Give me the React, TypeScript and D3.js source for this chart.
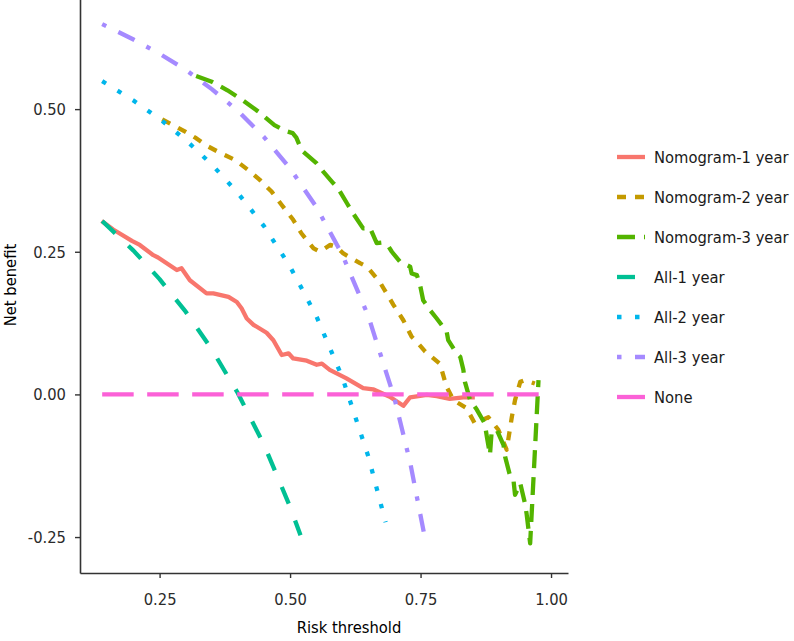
import React, { useEffect, useRef } from 'react';
import * as d3 from 'd3';

// threshold / net benefit pairs
const nomogram1: [number, number][] = [
  [0.139, 0.304], [0.161, 0.289], [0.197, 0.269], [0.212, 0.262], [0.238, 0.244],
  [0.247, 0.24], [0.283, 0.218], [0.292, 0.221], [0.308, 0.2], [0.34, 0.177],
  [0.353, 0.177], [0.382, 0.171], [0.398, 0.162], [0.407, 0.151], [0.417, 0.133],
  [0.43, 0.122], [0.455, 0.108], [0.468, 0.095], [0.484, 0.069], [0.497, 0.072],
  [0.506, 0.063], [0.532, 0.059], [0.551, 0.052], [0.561, 0.054], [0.576, 0.043],
  [0.608, 0.028], [0.64, 0.011], [0.659, 0.009], [0.691, -0.004], [0.717, -0.02],
  [0.73, -0.005], [0.762, -0.001], [0.781, -0.003], [0.806, -0.008], [0.832, -0.005],
  [0.854, -0.005]
];

const nomogram2: [number, number][] = [
  [0.255, 0.482], [0.28, 0.47], [0.3, 0.46], [0.32, 0.449], [0.34, 0.436],
  [0.3625, 0.425], [0.3945, 0.411], [0.42, 0.393], [0.442, 0.376], [0.465, 0.355],
  [0.484, 0.332], [0.506, 0.306], [0.522, 0.282], [0.545, 0.256], [0.557, 0.25],
  [0.577, 0.262], [0.589, 0.259], [0.602, 0.247], [0.634, 0.23], [0.647, 0.224],
  [0.672, 0.197], [0.679, 0.186], [0.698, 0.157], [0.717, 0.13], [0.733, 0.101],
  [0.743, 0.092], [0.759, 0.075], [0.787, 0.054], [0.8, 0.013], [0.813, -0.01],
  [0.838, -0.024], [0.854, -0.051], [0.88, -0.04], [0.899, -0.062], [0.915, -0.097],
  [0.925, -0.039], [0.931, -0.01], [0.941, 0.022], [0.95, 0.025], [0.969, 0.019]
];

const nomogram3: [number, number][] = [
  [0.32, 0.558], [0.35, 0.548], [0.38, 0.533], [0.41, 0.515], [0.44, 0.495],
  [0.47, 0.472], [0.49, 0.462], [0.505, 0.458], [0.512, 0.45], [0.522, 0.428],
  [0.551, 0.405], [0.564, 0.39], [0.583, 0.37], [0.592, 0.361], [0.609, 0.335],
  [0.621, 0.317], [0.64, 0.291], [0.653, 0.292], [0.666, 0.265], [0.675, 0.266],
  [0.688, 0.26], [0.695, 0.25], [0.711, 0.232], [0.73, 0.224], [0.733, 0.212],
  [0.743, 0.209], [0.749, 0.192], [0.755, 0.165], [0.768, 0.148], [0.781, 0.133],
  [0.8, 0.11], [0.803, 0.095], [0.819, 0.072], [0.826, 0.066], [0.832, 0.043],
  [0.835, 0.022], [0.845, -0.01], [0.858, -0.027], [0.873, -0.051], [0.877, -0.074],
  [0.883, -0.106], [0.886, -0.068], [0.893, -0.062], [0.896, -0.062], [0.909, -0.089],
  [0.912, -0.109], [0.921, -0.141], [0.928, -0.15], [0.931, -0.176], [0.941, -0.156],
  [0.95, -0.191], [0.953, -0.208], [0.96, -0.261], [0.976, 0.025]
];

const all1: [number, number][] = [
  [0.14, 0.304], [0.2, 0.252], [0.25, 0.202], [0.3, 0.145], [0.35, 0.079],
  [0.4, 0.002], [0.45, -0.088], [0.5, -0.197], [0.52, -0.247]
];

const all2: [number, number][] = [
  [0.14, 0.549], [0.2, 0.515], [0.25, 0.483], [0.3, 0.446], [0.35, 0.403],
  [0.4, 0.353], [0.45, 0.295], [0.5, 0.224], [0.55, 0.138], [0.6, 0.03],
  [0.65, -0.109], [0.683, -0.224]
];

const all3: [number, number][] = [
  [0.14, 0.649], [0.2, 0.622], [0.25, 0.597], [0.3, 0.569], [0.35, 0.535],
  [0.4, 0.497], [0.45, 0.451], [0.5, 0.396], [0.55, 0.329], [0.6, 0.245],
  [0.65, 0.137], [0.7, -0.007], [0.73, -0.119], [0.758, -0.25]
];

const none: [number, number][] = [[0.14, 0], [0.992, 0]];

const seriesNames = ['Nomogram-1 year', 'Nomogram-2 year', 'Nomogram-3 year', 'All-1 year', 'All-2 year', 'All-3 year', 'None'];
const seriesData = [nomogram1, nomogram2, nomogram3, all1, all2, all3, none];
const colors = ['#F8766D', '#C49A00', '#53B400', '#00C094', '#00B6EB', '#A58AFF', '#FB61D7'];
// ggplot linetype palette, in units of line width
const linetypes = [[], [2, 2], [4, 2], [4, 4], [1, 3], [1, 3, 4, 3], [7, 3]];

const xTicks = [0.25, 0.5, 0.75, 1.0];
const yTicks = [-0.25, 0, 0.25, 0.5];

const FONT = '"DejaVu Sans Condensed", "DejaVu Sans", sans-serif';

const App = () => {
  const svgRef = useRef<SVGSVGElement>(null);

  useEffect(() => {
    const svg = d3.select(svgRef.current);
    svg.selectAll('*').remove();

    const lw = 4.3;
    const unit = 4.5;
    const fmt = (d: d3.NumberValue) => (+d).toFixed(2);

    const x = d3.scaleLinear().domain([0.0975, 1.0325]).range([80, 568]);
    const y = d3.scaleLinear().domain([-0.313, 0.7]).range([573, -5]);

    // axes
    const yAxis = svg.append('g')
      .attr('transform', 'translate(80,0)')
      .call(d3.axisLeft(y).tickValues(yTicks).tickFormat(fmt).tickSize(5).tickSizeOuter(0).tickPadding(9));
    const xAxis = svg.append('g')
      .attr('transform', 'translate(0,573)')
      .call(d3.axisBottom(x).tickValues(xTicks).tickFormat(fmt).tickSize(5).tickSizeOuter(0));

    [yAxis, xAxis].forEach(g => {
      g.attr('font-family', FONT).attr('font-size', 16.4);
      g.select('.domain').attr('stroke', '#333').attr('stroke-width', 1.6);
      g.selectAll('.tick line').attr('stroke', '#333').attr('stroke-width', 1.4);
      g.selectAll('.tick text').attr('fill', '#2b2b2b');
    });
    xAxis.selectAll('.tick text').attr('y', 32).attr('dy', null);

    // axis titles
    svg.append('text')
      .attr('x', 349).attr('y', 633)
      .attr('text-anchor', 'middle')
      .attr('font-family', FONT).attr('font-size', 16.4)
      .text('Risk threshold');
    svg.append('text')
      .attr('transform', 'translate(15.5,285) rotate(-90)')
      .attr('text-anchor', 'middle')
      .attr('font-family', FONT).attr('font-size', 16.4)
      .text('Net benefit');

    // curves
    const line = d3.line<[number, number]>().x(d => x(d[0])).y(d => y(d[1]));
    seriesData.forEach((data, i) => {
      svg.append('path')
        .datum(data)
        .attr('d', line)
        .attr('fill', 'none')
        .attr('stroke', colors[i])
        .attr('stroke-width', lw)
        .attr('stroke-linejoin', 'round')
        .attr('stroke-dasharray', linetypes[i].length ? linetypes[i].map(v => v * unit).join(',') : null);
    });

    // legend
    const legend = svg.append('g');
    seriesNames.forEach((name, i) => {
      const ly = 157 + i * 40;
      legend.append('line')
        .attr('x1', 617).attr('x2', 645).attr('y1', ly).attr('y2', ly)
        .attr('stroke', colors[i])
        .attr('stroke-width', lw)
        .attr('stroke-dasharray', linetypes[i].length ? linetypes[i].map(v => v * unit).join(',') : null);
      legend.append('text')
        .attr('x', 654).attr('y', ly + 6.3)
        .attr('font-family', FONT).attr('font-size', 16.4)
        .attr('fill', '#1a1a1a')
        .text(name);
    });
  }, []);

  return (
    <svg
      ref={svgRef}
      width={794}
      height={641}
      style={{ position: 'absolute', left: 0, top: 0, background: '#fff' }}
    />
  );
};

export default App;
